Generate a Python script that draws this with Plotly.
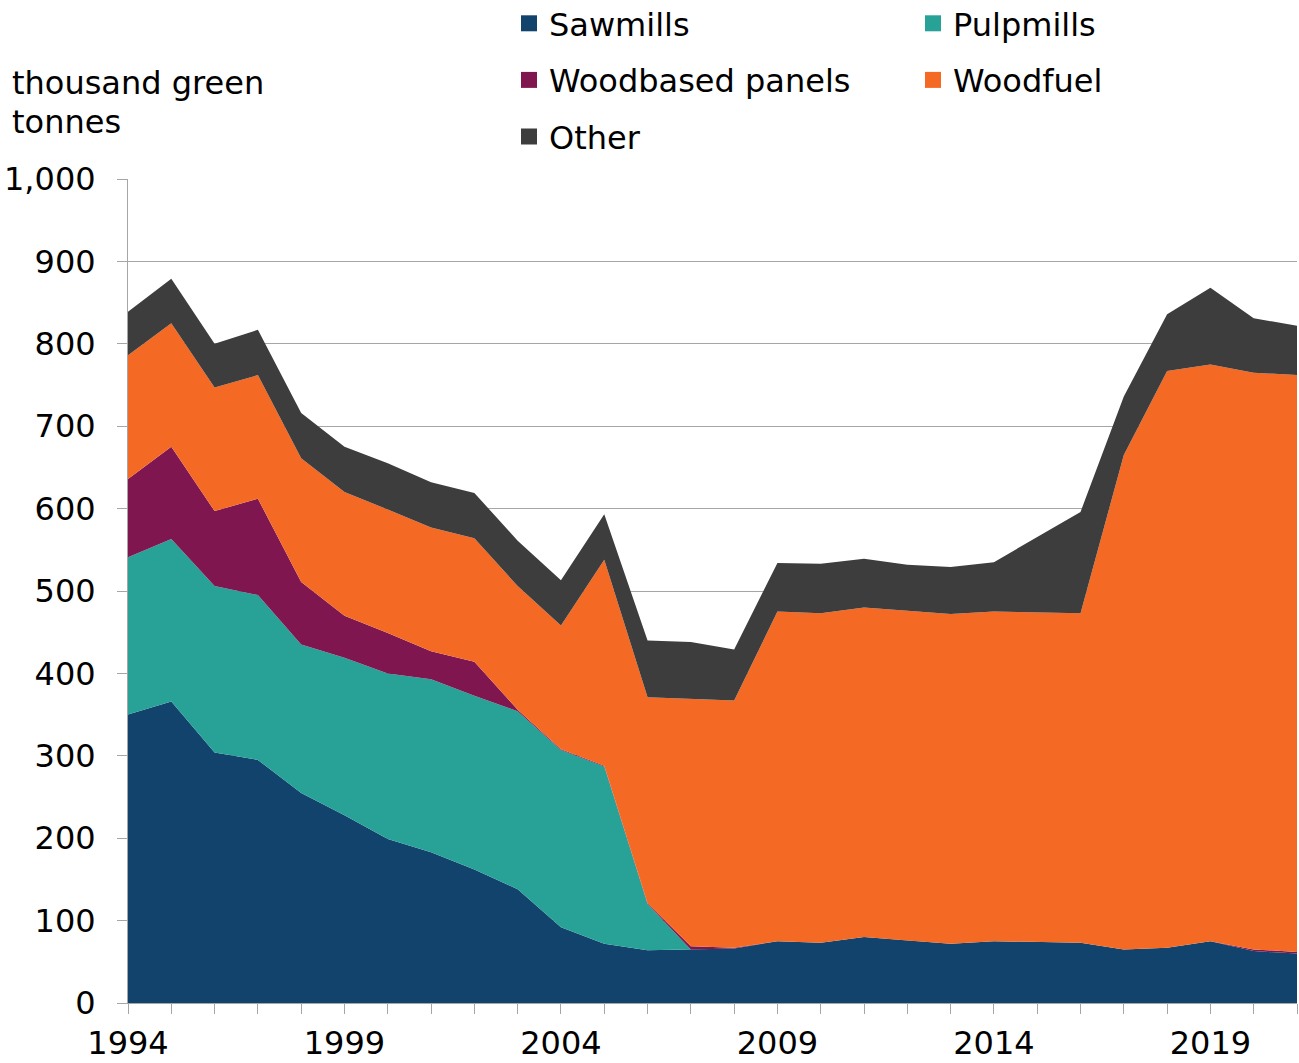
import plotly.graph_objects as go

years = list(range(1994, 2022))
sawmills = [350, 366, 304, 295, 255, 228, 199, 183, 162, 138, 92, 72, 64, 65, 66, 75, 73, 80, 76, 72, 75, 74, 73, 65, 67, 75, 63, 60]
pulpmills = [191, 197, 202, 200, 180, 191, 201, 210, 211, 216, 215, 215, 56, 0, 0, 0, 0, 0, 0, 0, 0, 0, 0, 0, 0, 0, 0, 0]
panels = [95, 112, 91, 117, 76, 51, 49, 34, 41, 2, 1, 1, 1, 4, 1, 0, 0, 0, 0, 0, 0, 0, 0, 0, 0, 0, 2, 2]
woodfuel = [150, 150, 150, 150, 150, 150, 150, 150, 150, 150, 150, 250, 250, 300, 300, 400, 400, 400, 400, 400, 400, 400, 400, 600, 700, 700, 700, 700]
other = [53, 54, 53, 55, 55, 55, 56, 55, 55, 55, 55, 55, 69, 69, 62, 59, 60, 59, 56, 57, 60, 91, 123, 71, 69, 93, 66, 60]

names = ["Sawmills", "Pulpmills", "Woodbased panels", "Woodfuel", "Other"]
series = [sawmills, pulpmills, panels, woodfuel, other]
colors = ["#12436D", "#28A197", "#801650", "#F46A25", "#3D3D3D"]
legend_ids = ["legend", "legend2", "legend", "legend2", "legend"]
title_lines = ["thousand green", "tonnes"]

FONT = "DejaVu Sans"
FS = 32
AXIS_GREY = "#A6A6A6"

fig = go.Figure()
for name, vals, col in zip(names, series, colors):
    fig.add_trace(go.Scatter(
        x=years, y=vals, name=name, mode="lines", stackgroup="one",
        line=dict(width=0, color=col), fillcolor=col, showlegend=False,
        hoverinfo="x+y+name",
    ))
for name, col, lg in zip(names, colors, legend_ids):
    fig.add_trace(go.Scatter(
        x=[None], y=[None], name=name, mode="markers",
        marker=dict(symbol="square", size=18, color=col),
        legend=lg, legendgroup=name, showlegend=True,
    ))

W, H = 1299, 1063
ml, mr, mt, mb = 128, 2, 179, 60
pw = W - ml - mr
ph = H - mt - mb


def px_x(p):
    return (p - ml) / pw


def px_y(p):
    return 1 + (mt - p) / ph


legend_common = dict(
    font=dict(family=FONT, size=FS, color="#000000"),
    orientation="v", traceorder="grouped", tracegroupgap=12,
    bgcolor="rgba(0,0,0,0)", yanchor="top", xanchor="left",
    itemclick=False, itemdoubleclick=False,
)

annotations = []
for line, ypx in zip(title_lines, [83, 122]):
    annotations.append(dict(
        text=line, xref="paper", yref="paper",
        x=px_x(10), y=px_y(ypx), xanchor="left", yanchor="middle", align="left",
        showarrow=False, font=dict(family=FONT, size=FS, color="#000000"),
    ))

fig.update_layout(
    width=W, height=H,
    margin=dict(l=ml, r=mr, t=mt, b=mb, autoexpand=False),
    paper_bgcolor="white", plot_bgcolor="white",
    font=dict(family=FONT, size=FS, color="#000000"),
    legend=dict(x=px_x(509), y=px_y(-4), **legend_common),
    legend2=dict(x=px_x(913), y=px_y(-4), **legend_common),
    xaxis=dict(
        range=[1994, 2021], tick0=1994, dtick=5, tickmode="linear",
        ticks="outside", ticklen=10, tickcolor=AXIS_GREY, tickwidth=1,
        ticklabelstandoff=2, automargin=False,
        minor=dict(dtick=1, tick0=1994, ticks="outside", ticklen=10, tickcolor=AXIS_GREY, showgrid=False),
        showline=True, linecolor=AXIS_GREY, linewidth=1,
        showgrid=False, zeroline=False,
        tickfont=dict(family=FONT, size=FS, color="#000000"),
    ),
    yaxis=dict(
        range=[0, 1000], dtick=100, tick0=0, tickmode="linear",
        tickformat=",d",
        ticks="outside", ticklen=10, tickcolor=AXIS_GREY, tickwidth=1,
        ticklabelstandoff=15, automargin=False,
        showline=True, linecolor=AXIS_GREY, linewidth=1,
        showgrid=True, gridcolor=AXIS_GREY, gridwidth=1,
        zeroline=False,
        tickfont=dict(family=FONT, size=FS, color="#000000"),
    ),
    annotations=annotations,
)

fig.write_html("out.html", config={"displayModeBar": False},
               post_script="document.body.style.margin='0';")
